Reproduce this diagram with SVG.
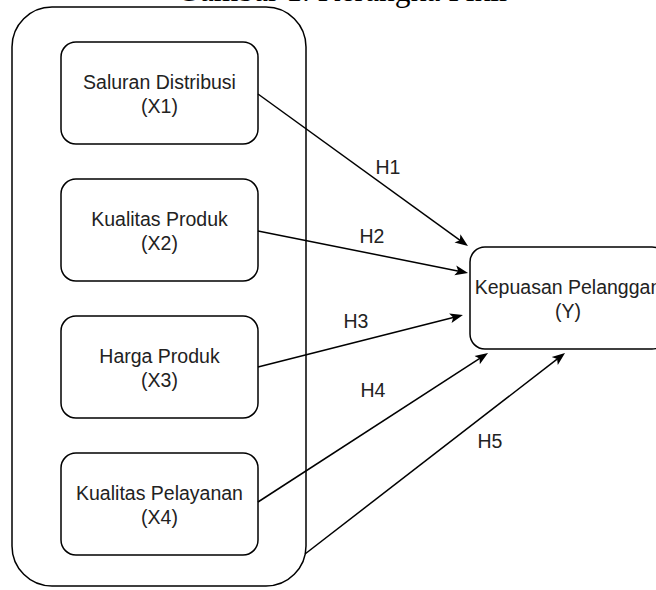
<svg xmlns="http://www.w3.org/2000/svg" width="656" height="590" viewBox="0 0 656 590">
<style>
.box{fill:#fff;stroke:#000;stroke-width:1.5}
.t{font-family:"Liberation Sans",Arial,sans-serif;font-size:19.5px;fill:#222;text-anchor:middle}
.c{stroke:#000;stroke-width:1.5;fill:none;marker-end:url(#arr)}
.title{font-family:"Liberation Serif","Times New Roman",serif;font-size:31.5px;fill:#000}
</style>
<defs>
<marker id="arr" markerUnits="userSpaceOnUse" markerWidth="14" markerHeight="12" refX="5" refY="5" orient="auto" viewBox="0 0 14 10">
<path d="M0,0 L13,5 L0,10 L3,5 Z" fill="#000"/>
</marker>
</defs>
<rect width="656" height="590" fill="#fff"/>
<text class="title" x="177" y="1">Gambar 1. Kerangka Pikir</text>
<g id="container"><rect class="box" x="12" y="7" width="294" height="579" rx="40" ry="40"/></g>
<g id="x1"><rect class="box" x="61" y="42" width="197" height="102" rx="15" ry="15"/>
<text class="t" x="159.5" y="89">Saluran Distribusi</text><text class="t" x="159.5" y="113">(X1)</text></g>
<g id="x2"><rect class="box" x="61" y="179" width="197" height="102" rx="15" ry="15"/>
<text class="t" x="159.5" y="226">Kualitas Produk</text><text class="t" x="159.5" y="250">(X2)</text></g>
<g id="x3"><rect class="box" x="61" y="316" width="197" height="102" rx="15" ry="15"/>
<text class="t" x="159.5" y="363">Harga Produk</text><text class="t" x="159.5" y="387">(X3)</text></g>
<g id="x4"><rect class="box" x="61" y="453" width="197" height="102" rx="15" ry="15"/>
<text class="t" x="159.5" y="500">Kualitas Pelayanan</text><text class="t" x="159.5" y="524">(X4)</text></g>
<g id="y"><rect class="box" x="470" y="247" width="197" height="102" rx="15" ry="15"/>
<text class="t" x="568" y="294">Kepuasan Pelanggan</text><text class="t" x="568" y="318">(Y)</text></g>
<g id="connectors">
<line class="c" x1="258" y1="94" x2="461.5" y2="241.3"/>
<line class="c" x1="258" y1="231" x2="460.2" y2="271.4"/>
<line class="c" x1="258" y1="367" x2="455.2" y2="317"/>
<line class="c" x1="258" y1="502" x2="481.3" y2="357.4"/>
<line class="c" x1="305" y1="554" x2="558.7" y2="357.9"/>
<text class="t" x="388" y="174">H1</text>
<text class="t" x="372" y="243">H2</text>
<text class="t" x="356" y="328">H3</text>
<text class="t" x="373" y="397">H4</text>
<text class="t" x="490" y="448">H5</text>
</g>
</svg>
